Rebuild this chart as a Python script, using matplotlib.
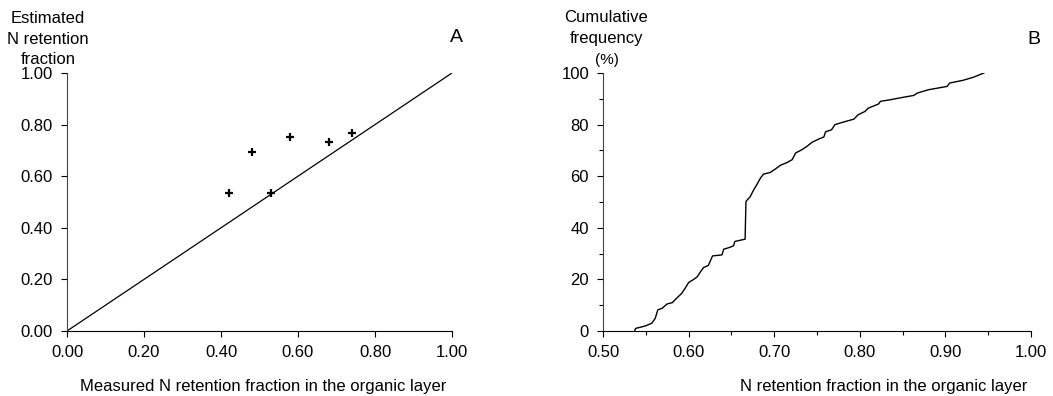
import matplotlib.pyplot as plt
from matplotlib.ticker import MultipleLocator

# Panneau A : fraction mesurée vs estimée
measured = [0.42, 0.48, 0.53, 0.58, 0.68, 0.74]
estimated = [0.535, 0.693, 0.535, 0.752, 0.733, 0.766]
line_1to1 = [0.0, 1.0]

# Panneau B : fréquence cumulée
retention = [0.537, 0.538, 0.549, 0.557, 0.561, 0.564, 0.569, 0.575, 0.581, 0.586,
             0.592, 0.596, 0.600, 0.606, 0.610, 0.614, 0.6175, 0.623, 0.628, 0.639,
             0.641, 0.647, 0.6525, 0.654, 0.666, 0.667, 0.672, 0.676, 0.680, 0.684,
             0.6875, 0.695, 0.701, 0.707, 0.715, 0.721, 0.725, 0.732, 0.738, 0.744,
             0.752, 0.758, 0.760, 0.767, 0.771, 0.781, 0.793, 0.798, 0.806, 0.810,
             0.822, 0.824, 0.835, 0.851, 0.863, 0.867, 0.880, 0.902, 0.905, 0.921,
             0.933, 0.945]
cum_freq = [0.0, 1.0, 1.9, 3.0, 4.9, 8.2, 8.8, 10.5, 11.0, 12.7,
            14.6, 16.6, 18.8, 20.0, 21.0, 23.0, 24.6, 25.4, 29.1, 29.5,
            31.7, 32.3, 33.0, 34.7, 35.6, 50.2, 52.1, 54.7, 56.9, 59.3,
            60.8, 61.4, 62.7, 64.2, 65.3, 66.4, 69.0, 70.2, 71.5, 73.1,
            74.4, 75.2, 77.2, 78.0, 80.0, 81.0, 82.1, 83.8, 85.1, 86.4,
            88.0, 89.0, 89.6, 90.6, 91.3, 92.2, 93.5, 94.8, 96.1, 97.2,
            98.4, 100.0]

plt.rcParams['font.family'] = ['Liberation Sans', 'DejaVu Sans']
plt.rcParams['font.size'] = 12

fig = plt.figure(figsize=(10.53, 3.96), dpi=100)
W, H = 1053, 396
axA = fig.add_axes([67 / W, 1 - 331 / H, (452 - 67) / W, (331 - 73) / H])
axB = fig.add_axes([603 / W, 1 - 331 / H, (1031 - 603) / W, (331 - 73) / H])

for ax in (axA, axB):
    ax.spines['top'].set_visible(False)
    ax.spines['right'].set_visible(False)
    ax.spines['left'].set_color('#444444')
    ax.tick_params(direction='out', length=4, width=0.8, pad=6, labelsize=12)
    ax.tick_params(which='minor', direction='out', length=3, width=0.8)

# A
axA.plot(line_1to1, line_1to1, color='black', lw=0.9)
axA.plot(measured, estimated, '+', color='black', ms=6, mew=1.6)
axA.set_xlim(0, 1)
axA.set_ylim(0, 1)
axA.xaxis.set_major_locator(MultipleLocator(0.2))
axA.yaxis.set_major_locator(MultipleLocator(0.2))
axA.xaxis.set_major_formatter('{x:.2f}')
axA.yaxis.set_major_formatter('{x:.2f}')
fig.text(263 / W, 1 - 386 / H, 'Measured N retention fraction in the organic layer',
         ha='center', va='center', fontsize=12)
fig.text(48 / W, 1 - 39 / H, 'Estimated\nN retention\nfraction', ha='center',
         va='center', fontsize=12, linespacing=1.45)
fig.text(456 / W, 1 - 37 / H, 'A', ha='center', va='center', fontsize=14)

# B
axB.plot(retention, cum_freq, color='black', lw=1.0)
axB.set_xlim(0.5, 1.0)
axB.set_ylim(0, 100)
axB.xaxis.set_major_locator(MultipleLocator(0.1))
axB.xaxis.set_minor_locator(MultipleLocator(0.05))
axB.yaxis.set_major_locator(MultipleLocator(20))
axB.yaxis.set_minor_locator(MultipleLocator(10))
axB.xaxis.set_major_formatter('{x:.2f}')
fig.text(1027 / W, 1 - 386 / H, 'N retention fraction in the organic layer',
         ha='right', va='center', fontsize=12)
fig.text(606 / W, 1 - 28 / H, 'Cumulative\nfrequency', ha='center',
         va='center', fontsize=12, linespacing=1.45)
fig.text(607 / W, 1 - 60 / H, '(%)', ha='center', va='center', fontsize=11)
fig.text(1034 / W, 1 - 40 / H, 'B', ha='center', va='center', fontsize=14)

fig.savefig('out.png', dpi=100)
